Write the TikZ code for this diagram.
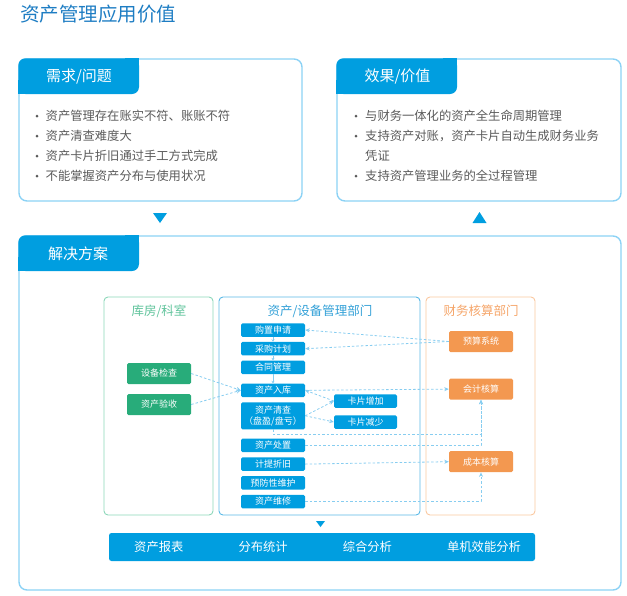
\documentclass[tikz,border=0pt]{standalone}
\usepackage{fontspec}
\setmainfont{Noto Sans CJK SC}
\usepackage{xcolor}
\usetikzlibrary{positioning,arrows.meta}

\definecolor{tabblue}{RGB}{0,158,224}
\definecolor{frameblue}{RGB}{140,210,245}
\definecolor{titleblue}{RGB}{30,125,195}
\definecolor{textgray}{RGB}{90,90,90}
\definecolor{flowblue}{RGB}{135,205,240}
\definecolor{storegreen}{RGB}{140,215,185}
\definecolor{storetext}{RGB}{95,195,155}
\definecolor{fillgreen}{RGB}{40,172,122}
\definecolor{deptblue}{RGB}{90,185,230}
\definecolor{depttext}{RGB}{50,160,215}
\definecolor{financeorange}{RGB}{250,200,160}
\definecolor{financetext}{RGB}{245,165,105}
\definecolor{fillorange}{RGB}{243,152,80}

\begin{document}
\begin{tikzpicture}[
	x=1pt, y=-1pt,
	>={Stealth[length=4.5pt,width=4pt]},
	node distance=4.8pt,
	framebox/.style={
		draw=frameblue,
		line width=1.4pt,
		rounded corners=8pt
	},
	tabtext/.style={
		text=white,
		inner sep=0pt,
		font=\fontsize{15}{18}\selectfont
	},
	itemdot/.style={
		circle,
		fill=textgray,
		inner sep=0pt,
		minimum size=3pt
	},
	itemtext/.style={
		anchor=west,
		inner sep=0pt,
		text=textgray,
		font=\fontsize{12.3}{14}\selectfont
	},
	panel/.style={
		draw,
		rounded corners=4pt,
		line width=0.9pt,
		minimum width=#1,
		minimum height=218pt
	},
	paneltitle/.style={
		inner sep=0pt,
		font=\fontsize{12.5}{14}\selectfont
	},
	colbox/.style={
		fill=tabblue,
		rounded corners=1.5pt,
		text=white,
		inner sep=0pt,
		align=center,
		minimum width=64pt,
		minimum height=13.5pt,
		font=\fontsize{9}{11}\selectfont
	},
	sidebox/.style={
		rounded corners=1.5pt,
		text=white,
		inner sep=0pt,
		minimum width=64pt,
		minimum height=21pt,
		font=\fontsize{9}{11}\selectfont
	},
	flow/.style={
		draw=flowblue,
		line width=0.8pt,
		dash pattern=on 2.5pt off 2pt
	},
	stackarrow/.style={
		draw=flowblue,
		line width=0.6pt,
		-{Stealth[length=2.5pt,width=3pt]}
	}
	]
	
	\useasboundingbox (0,0) rectangle (627,595);
	
	% title
	\node[anchor=west, inner sep=0pt, text=titleblue, font=\fontsize{19.5}{22}\selectfont] (title) at (20,14) {资产管理应用价值};
	
	% frames
	\draw[framebox] (19,59) rectangle (302,201);
	\draw[framebox] (337,59) rectangle (621,201);
	\draw[framebox] (19,236) rectangle (621,590);
	
	% tabs
	\foreach \tx/\ty in {18.3/58.3, 336.3/58.3, 18.3/235.3} {
		\fill[tabblue, rounded corners=7pt] (\tx,\ty) rectangle ++(120.7,35.7);
		\fill[tabblue] (\tx+106.7,\ty) rectangle ++(14,12);
		\fill[tabblue] (\tx,\ty+22) rectangle ++(14,13.7);
	}
	\node[tabtext] (needtab) at (79,76.5) {需求/问题};
	\node[tabtext] (gaintab) at (397.5,76.5) {效果/价值};
	\node[tabtext] (plantab) at (78,253.5) {解决方案};
	
	% bullets, left
	\foreach \txt [count=\i] in {资产管理存在账实不符、账账不符, 资产清查难度大, 资产卡片折旧通过手工方式完成, 不能掌握资产分布与使用状况} {
		\node[itemdot] (needdot\i) at (37,96+20*\i) {};
		\node[itemtext] (need\i) at (45.5,96+20*\i) {\txt};
	}
	
	% bullets, right
	\node[itemdot] (gaindot1) at (356,116) {};
	\node[itemtext] (gain1) at (365,116) {与财务一体化的资产全生命周期管理};
	\node[itemdot] (gaindot2) at (356,136) {};
	\node[itemtext] (gain2) at (365,136) {支持资产对账，资产卡片自动生成财务业务};
	\node[itemtext] (gain2b) at (365,156) {凭证};
	\node[itemdot] (gaindot3) at (356,176) {};
	\node[itemtext] (gain3) at (365,176) {支持资产管理业务的全过程管理};
	
	% triangles
	\fill[tabblue] (153,213) -- (167,213) -- (160,223) -- cycle;
	\fill[tabblue] (472.5,223) -- (486.5,223) -- (479.5,212) -- cycle;
	
	% panels
	\node[panel=109pt, draw=storegreen] (store) at (158.5,406) {};
	\node[panel=201pt, draw=deptblue] (dept) at (319.5,406) {};
	\node[panel=109pt, draw=financeorange] (finance) at (480.5,406) {};
	\node[paneltitle, text=storetext] (storetitle) at (159,311) {库房/科室};
	\node[paneltitle, text=depttext] (depttitle) at (320,311) {资产/设备管理部门};
	\node[paneltitle, text=financetext] (financetitle) at (481,311) {财务核算部门};
	
	% asset column
	\node[colbox] (purchase) at (273,330) {购置申请};
	\node[colbox, below=of purchase] (plan) {采购计划};
	\node[colbox, below=of plan] (contract) {合同管理};
	\node[colbox, below=9pt of contract] (instock) {资产入库};
	\node[colbox, below=of instock, minimum height=27pt] (check) {资产清查\\（盘盈/盘亏）};
	\node[colbox, below=9pt of check] (dispose) {资产处置};
	\node[colbox, below=of dispose] (deprec) {计提折旧};
	\node[colbox, below=of deprec] (maint) {预防性维护};
	\node[colbox, below=of maint] (repair) {资产维修};
	
	\node[colbox, minimum width=63pt] (cardadd) at (365.5,401) {卡片增加};
	\node[colbox, minimum width=63pt] (cardsub) at (365.5,422) {卡片减少};
	
	% store and finance
	\node[sidebox, fill=fillgreen] (devcheck) at (159,373.5) {设备检查};
	\node[sidebox, fill=fillgreen] (accept) at (159,404.5) {资产验收};
	\node[sidebox, fill=fillorange] (budget) at (481,341.5) {预算系统};
	\node[sidebox, fill=fillorange] (acct) at (481,389.1) {会计核算};
	\node[sidebox, fill=fillorange] (cost) at (481,461.7) {成本核算};
	
	% connectors
	\draw[stackarrow] (purchase) -- (plan);
	\draw[stackarrow] (plan) -- (contract);
	\draw[stackarrow] (contract) -- (instock);
	
	\draw[flow,->] (budget.west) -- (purchase.east);
	\draw[flow,->] (budget.west) -- (plan.east);
	\draw[flow,->] (devcheck.east) -- (instock.west);
	\draw[flow,->] (accept.east) -- (instock.west);
	\draw[flow,->] (cardadd.west) -- (instock.east);
	\draw[flow,->] (check.east) -- (cardadd.west);
	\draw[flow,->] (check.east) -- (cardsub.west);
	\draw[flow,->] (instock.east) -- (acct.west);
	\draw[flow,->] (check.south) -- ++(0,5) -| (acct.south);
	\draw[flow,->] (dispose.east) -| (acct.south);
	\draw[flow,->] (deprec.east) -- (cost.west);
	\draw[flow,->] (repair.east) -| (cost.south);
	
	% report bar
	\fill[tabblue] (316,521) -- (325,521) -- (320.5,527) -- cycle;
	\node[fill=tabblue, rounded corners=2.5pt, minimum width=426pt, minimum height=28pt, inner sep=0pt] (bar) at (322,547) {};
	\foreach \txt [count=\i] in {资产报表, 分布统计, 综合分析, 单机效能分析} {
		\node[anchor=west, inner sep=0pt, text=white, font=\fontsize{12.3}{14}\selectfont] (report\i) at (134+104.3*\i-104.3,547) {\txt};
	}
	
\end{tikzpicture}
\end{document}
